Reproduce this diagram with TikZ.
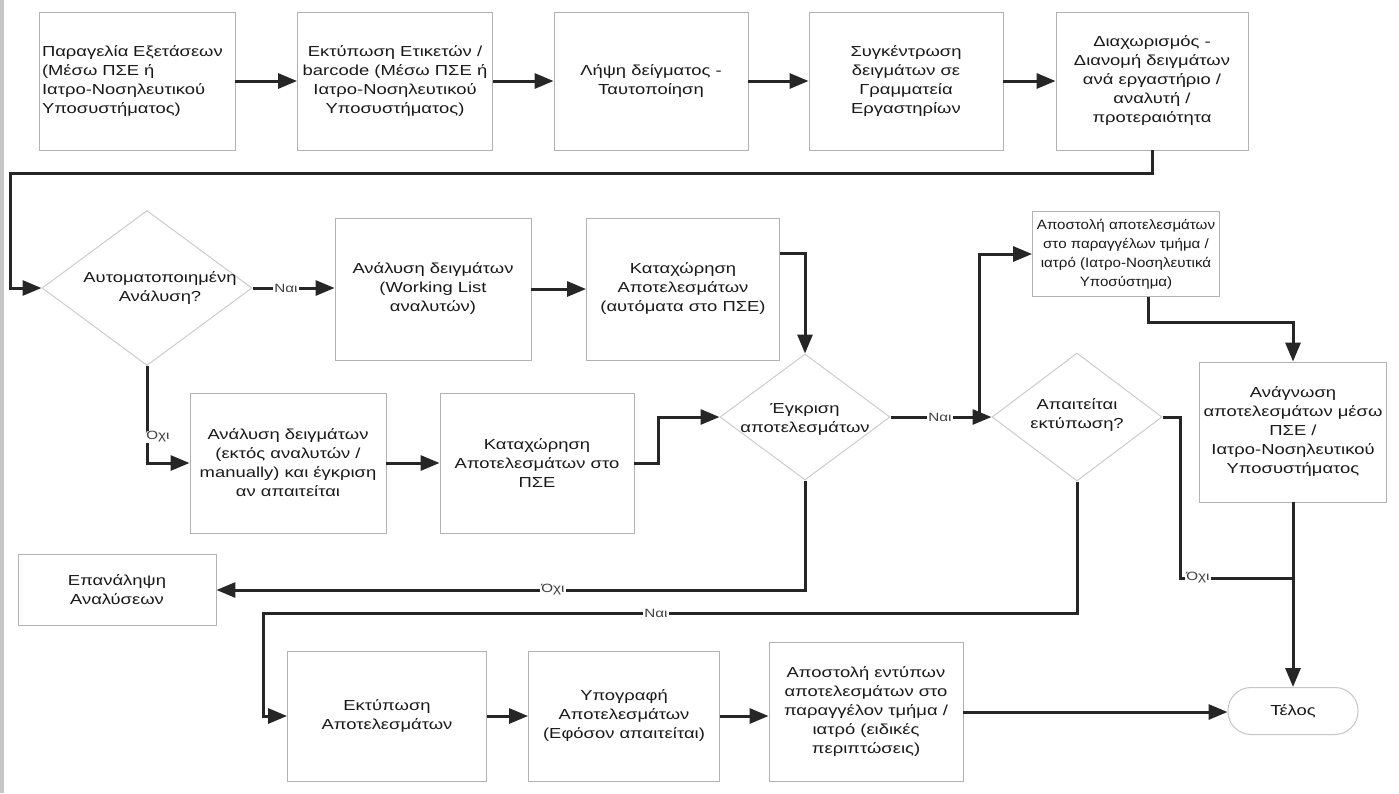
\documentclass[tikz,border=0pt]{standalone}
\usepackage{fontspec}
\setmainfont{Liberation Sans}[FakeStretch=1.27]
\newfontfamily\narrowsans{Liberation Sans}[FakeStretch=1.12]
\usetikzlibrary{arrows.meta,shapes.geometric,calc}

\begin{document}
\begin{tikzpicture}[x=1pt,y=-1pt,
  every node/.style={font=\fontsize{14.5}{19}\selectfont, text=black!90},
  box/.style={draw=gray!60, line width=0.9pt, fill=white, inner sep=0pt, align=center},
  dec/.style={diamond, draw=gray!40, line width=1pt, inner sep=0pt},
  flow/.style={line width=3pt, draw=black!85, -{Triangle[length=19pt,width=15pt]}},
  link/.style={line width=3pt, draw=black!85},
  lab/.style={font=\fontsize{12}{14}\selectfont, fill=white, inner sep=1pt, text=black!75}
]
\useasboundingbox (0,0) rectangle (1399,793);
\fill[white] (0,0) rectangle (1399,793);
\fill[gray!45] (0,0) rectangle (4,793);

% top row
\node[box, align=left, text width=190pt, inner xsep=3pt, minimum height=138pt] (b1) at (137,81)
  {Παραγελία Εξετάσεων\\(Μέσω ΠΣΕ ή\\Ιατρο-Νοσηλευτικού\\Υποσυστήματος)};
\node[box, minimum width=195pt, minimum height=138pt] (b2) at (395,81)
  {Εκτύπωση Ετικετών /\\barcode (Μέσω ΠΣΕ ή\\Ιατρο-Νοσηλευτικού\\Υποσυστήματος)};
\node[box, minimum width=194pt, minimum height=138pt] (b3) at (651,81)
  {Λήψη δείγματος -\\Ταυτοποίηση};
\node[box, minimum width=194pt, minimum height=138pt] (b4) at (906,81)
  {Συγκέντρωση\\δειγμάτων σε\\Γραμματεία\\Εργαστηρίων};
\node[box, minimum width=192pt, minimum height=138pt] (b5) at (1152,81)
  {Διαχωρισμός -\\Διανομή δειγμάτων\\ανά εργαστήριο /\\αναλυτή /\\προτεραιότητα};

% automated analysis branch
\node[dec, minimum width=210pt, minimum height=155pt] (d1) at (147,288) {};
\node[align=center] (d1t) at (160,288) {Αυτοματοποιημένη\\Ανάλυση?};
\node[box, minimum width=196pt, minimum height=142pt] (b6) at (433,289)
  {Ανάλυση δειγμάτων\\(Working List\\αναλυτών)};
\node[box, minimum width=193pt, minimum height=142pt] (b7) at (683,289)
  {Καταχώρηση\\Αποτελεσμάτων\\(αυτόματα στο ΠΣΕ)};

% manual analysis branch
\node[box, minimum width=196pt, minimum height=140pt] (b12) at (288,463)
  {Ανάλυση δειγμάτων\\(εκτός αναλυτών /\\manually) και έγκριση\\αν απαιτείται};
\node[box, minimum width=194pt, minimum height=140pt] (b13) at (537,463)
  {Καταχώρηση\\Αποτελεσμάτων στο\\ΠΣΕ};

% approval and printing decisions
\node[dec, minimum width=170pt, minimum height=126pt] (d2) at (805,417) {};
\node[align=center] (d2t) at (805,419) {Έγκριση\\αποτελεσμάτων};
\node[dec, minimum width=170pt, minimum height=128pt] (d3) at (1077,417) {};
\node[align=center] (d3t) at (1077,415) {Απαιτείται\\εκτύπωση?};

\node[box, minimum width=187pt, minimum height=85pt, font=\narrowsans\fontsize{13.5}{19}\selectfont] (b8) at (1126,254)
  {Αποστολή αποτελεσμάτων\\στο παραγγέλων τμήμα /\\ιατρό (Ιατρο-Νοσηλευτικά\\Υποσύστημα)};
\node[box, minimum width=187pt, minimum height=140pt] (b9) at (1293,432)
  {Ανάγνωση\\αποτελεσμάτων μέσω\\ΠΣΕ /\\Ιατρο-Νοσηλευτικού\\Υποσυστήματος};

\node[box, minimum width=198pt, minimum height=71pt] (b11) at (117,590)
  {Επανάληψη\\Αναλύσεων};

% printed results row
\node[box, minimum width=199pt, minimum height=130pt] (b10) at (387,716)
  {Εκτύπωση\\Αποτελεσμάτων};
\node[box, minimum width=191pt, minimum height=130pt] (b14) at (624,716)
  {Υπογραφή\\Αποτελεσμάτων\\(Εφόσον απαιτείται)};
\node[box, minimum width=194pt, minimum height=139pt] (b15) at (866,712)
  {Αποστολή εντύπων\\αποτελεσμάτων στο\\παραγγέλον τμήμα /\\ιατρό (ειδικές\\περιπτώσεις)};
\node[draw=gray!45, line width=1pt, rounded corners=23pt, minimum width=130pt,
  minimum height=47pt, inner sep=0pt] (end) at (1293,711) {Τέλος};

% bend points
\coordinate (k1) at (10,173);
\coordinate (j1) at (979,417);
\coordinate (k2) at (1293,322);
\coordinate (k3) at (1180,578);
\coordinate (j2) at (1293,578);
\coordinate (k4) at (263,613);
\coordinate (k5) at (805,590);

% connectors
\draw[flow] (b1.east) -- (b2.west);
\draw[flow] (b2.east) -- (b3.west);
\draw[flow] (b3.east) -- (b4.west);
\draw[flow] (b4.east) -- (b5.west);
\draw[flow] (b5.south) |- (k1) |- (d1.west);
\draw[flow] (d1.east) -- (d1.east -| b6.west);
\draw[flow] (b6.east) -- (b7.west);
\draw[flow] ([yshift=36pt]b7.east) -| (d2.north);
\draw[flow] (d1.south) |- (b12.west);
\draw[flow] (b12.east) -- (b13.west);
\draw[flow] (b13.east) -- ++(24,0) |- (d2.west);
\draw[flow] (d2.east) -- (d3.west);
\draw[flow] (j1) |- (b8.west);
\draw[flow] ([xshift=22pt]b8.south) |- (k2) -- (b9.north);
\draw[flow] (b9.south) -- (end.north);
\draw[link] (d3.east) -| (k3) -- (j2);
\draw[flow] (d3.south) |- (k4) |- (b10.west);
\draw[flow] (d2.south) -- (k5) -- (k5 -| b11.east);
\draw[flow] (b10.east) -- (b10.east -| b14.west);
\draw[flow] (b14.east) -- (b14.east -| b15.west);
\draw[flow] (b15.east) -- (b15.east -| end.west);

% branch labels
\node[lab] (l1) at (286,288) {Ναι};
\node[lab] (l2) at (158,437) {Όχι};
\node[lab] (l3) at (940,417) {Ναι};
\node[lab] (l4) at (1198,578) {Όχι};
\node[lab] (l5) at (656,613) {Ναι};
\node[lab] (l6) at (553,590) {Όχι};
\end{tikzpicture}
\end{document}
